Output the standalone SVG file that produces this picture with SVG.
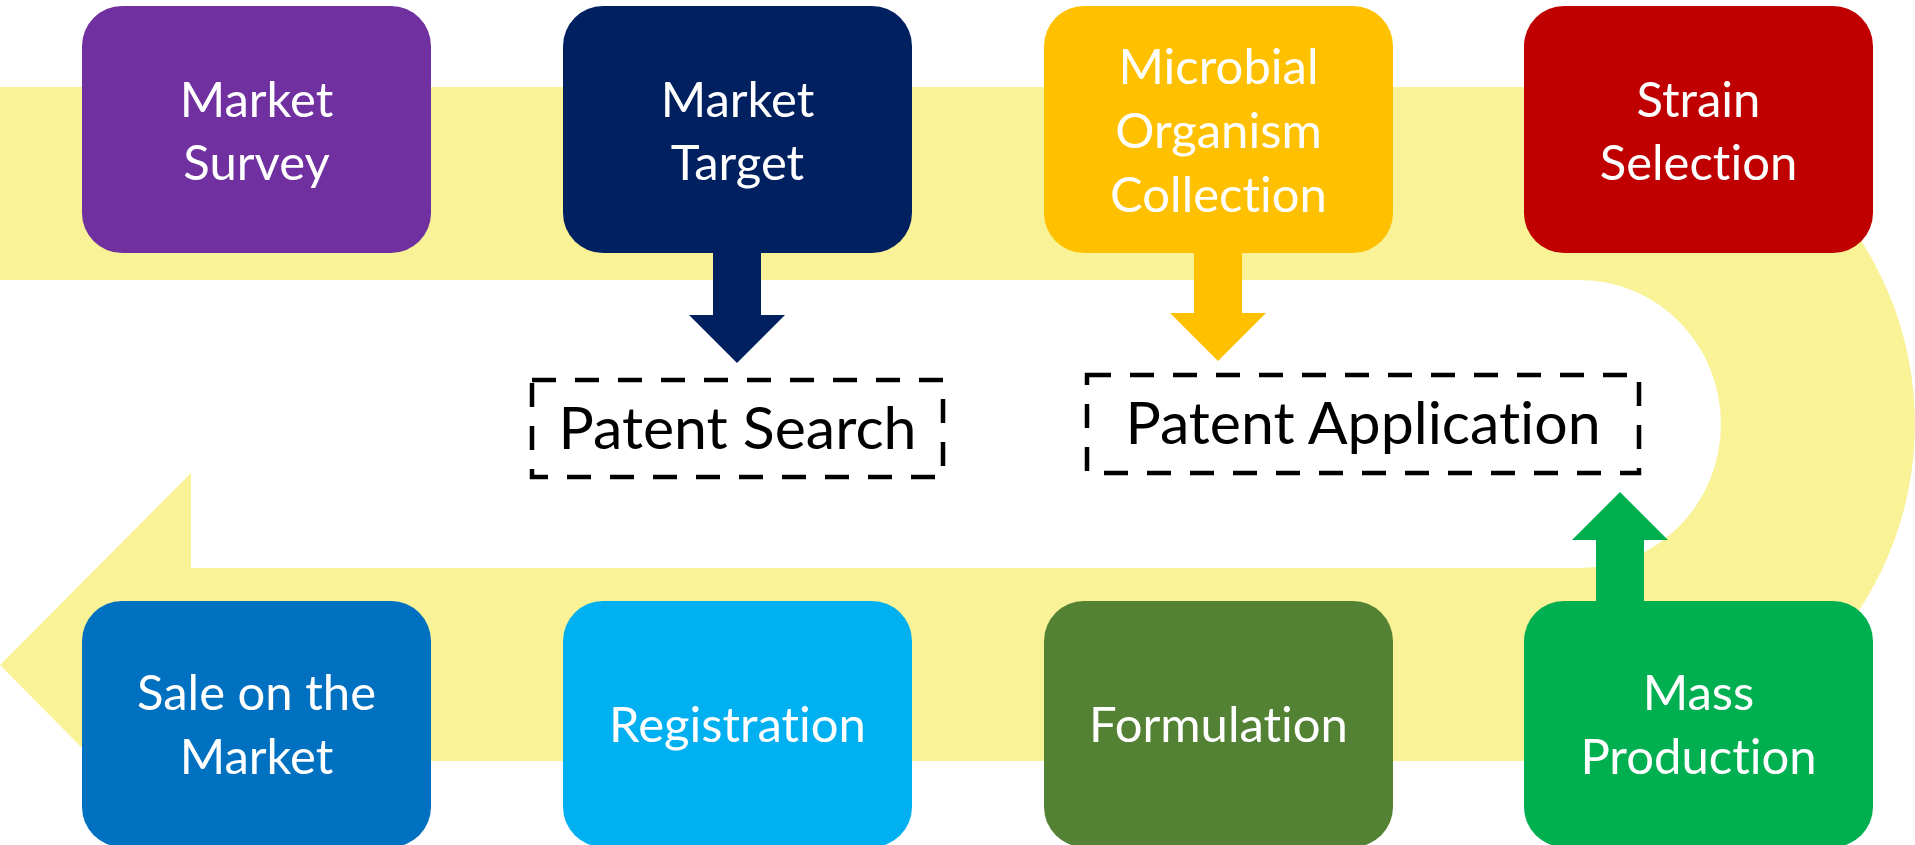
<svg xmlns="http://www.w3.org/2000/svg" width="1915" height="845" viewBox="0 0 1915 845">
<style>
text{font-variant-ligatures:none;font-feature-settings:"liga" 0,"clig" 0}
.box text{font-family:Lato,"Liberation Sans",sans-serif;font-size:49px;fill:#fff;text-anchor:middle}
.dash rect{fill:none;stroke:#000;stroke-width:4.5;stroke-dasharray:24 19}
.dash text{font-family:Lato,"Liberation Sans",sans-serif;font-size:59px;fill:#000;text-anchor:middle}
</style>
<rect width="1915" height="845" fill="#fff"/>
<path id="band" d="M0,87 H1580 A335,337 0 0 1 1580,761 H191 V858 L0,665 L191,473 V568 H1580 A141,144 0 0 0 1580,280 H0 Z" fill="#F9F296"/>
<g id="connectors">
<path d="M713,253 H761 V315 H785 L737,363 L689,315 H713 Z" fill="#002060"/>
<path d="M1194,253 H1242 V313 H1266 L1218,361 L1170,313 H1194 Z" fill="#FFC000"/>
<path d="M1596,602 H1644 V540 H1668 L1620,492 L1572,540 H1596 Z" fill="#00B050"/>
</g>
<g id="market-survey" class="box"><rect x="82" y="6" width="349" height="247" rx="40" fill="#7030A0"/><text x="256.5" y="117">Market</text><text x="256.5" y="180">Survey</text></g>
<g id="market-target" class="box"><rect x="563" y="6" width="349" height="247" rx="40" fill="#002060"/><text x="737.5" y="117">Market</text><text x="737.5" y="180">Target</text></g>
<g id="microbial-collection" class="box"><rect x="1044" y="6" width="349" height="247" rx="40" fill="#FFC000"/><text x="1218.5" y="84">Microbial</text><text x="1218.5" y="148">Organism</text><text x="1218.5" y="212">Collection</text></g>
<g id="strain-selection" class="box"><rect x="1524" y="6" width="349" height="247" rx="40" fill="#C00000"/><text x="1698.5" y="117">Strain</text><text x="1698.5" y="180">Selection</text></g>
<g id="sale-market" class="box"><rect x="82" y="601" width="349" height="246" rx="40" fill="#0070C0"/><text x="256.5" y="710">Sale on the</text><text x="256.5" y="774">Market</text></g>
<g id="registration" class="box"><rect x="563" y="601" width="349" height="246" rx="40" fill="#00B0F0"/><text x="737.5" y="742">Registration</text></g>
<g id="formulation" class="box"><rect x="1044" y="601" width="349" height="246" rx="40" fill="#548235"/><text x="1218.5" y="742">Formulation</text></g>
<g id="mass-production" class="box"><rect x="1524" y="601" width="349" height="246" rx="40" fill="#00B050"/><text x="1698.5" y="710">Mass</text><text x="1698.5" y="774">Production</text></g>
<g id="patent-search" class="dash"><rect x="532" y="380" width="411" height="97"/><text x="737.5" y="449">Patent Search</text></g>
<g id="patent-application" class="dash"><rect x="1087" y="375" width="552" height="98"/><text x="1363" y="444">Patent Application</text></g>
</svg>
